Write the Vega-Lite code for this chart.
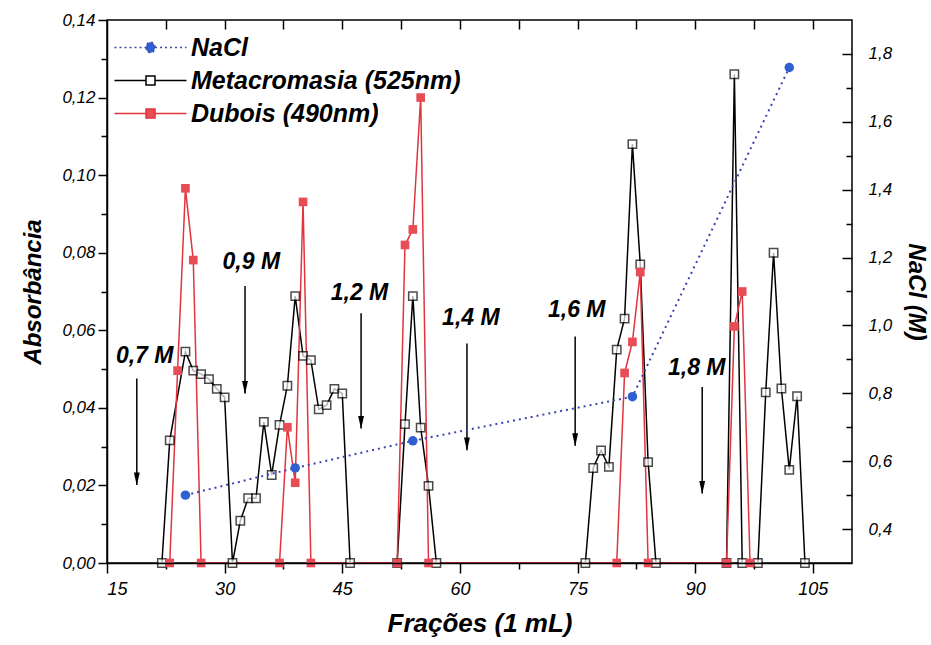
{
  "$schema": "https://vega.github.io/schema/vega-lite/v6.json",
  "width": 745,
  "height": 543,
  "autosize": {"type": "none"},
  "padding": {"left": 107, "top": 20, "right": 79, "bottom": 82},
  "background": "white",
  "config": {"view": {"stroke": "black", "strokeWidth": 1.5}},
  "datasets": {
    "absdata": [
      {"series": "Metacromasia (525nm)", "frac": 22, "absv": 0},
      {"series": "Metacromasia (525nm)", "frac": 23, "absv": 0.0316},
      {"series": "Metacromasia (525nm)", "frac": 25, "absv": 0.0545},
      {"series": "Metacromasia (525nm)", "frac": 26, "absv": 0.0496},
      {"series": "Metacromasia (525nm)", "frac": 27, "absv": 0.0487},
      {"series": "Metacromasia (525nm)", "frac": 28, "absv": 0.0474},
      {"series": "Metacromasia (525nm)", "frac": 29, "absv": 0.0449},
      {"series": "Metacromasia (525nm)", "frac": 30, "absv": 0.0427},
      {"series": "Metacromasia (525nm)", "frac": 31, "absv": 0},
      {"series": "Metacromasia (525nm)", "frac": 32, "absv": 0.0109},
      {"series": "Metacromasia (525nm)", "frac": 33, "absv": 0.0167},
      {"series": "Metacromasia (525nm)", "frac": 34, "absv": 0.0167},
      {"series": "Metacromasia (525nm)", "frac": 35, "absv": 0.0364},
      {"series": "Metacromasia (525nm)", "frac": 36, "absv": 0.0227},
      {"series": "Metacromasia (525nm)", "frac": 37, "absv": 0.0356},
      {"series": "Metacromasia (525nm)", "frac": 38, "absv": 0.0457},
      {"series": "Metacromasia (525nm)", "frac": 39, "absv": 0.0688},
      {"series": "Metacromasia (525nm)", "frac": 40, "absv": 0.0534},
      {"series": "Metacromasia (525nm)", "frac": 41, "absv": 0.0523},
      {"series": "Metacromasia (525nm)", "frac": 42, "absv": 0.0396},
      {"series": "Metacromasia (525nm)", "frac": 43, "absv": 0.0407},
      {"series": "Metacromasia (525nm)", "frac": 44, "absv": 0.0449},
      {"series": "Metacromasia (525nm)", "frac": 45, "absv": 0.0437},
      {"series": "Metacromasia (525nm)", "frac": 46, "absv": 0},
      {"series": "Metacromasia (525nm)", "frac": 52, "absv": 0},
      {"series": "Metacromasia (525nm)", "frac": 53, "absv": 0.0358},
      {"series": "Metacromasia (525nm)", "frac": 54, "absv": 0.0688},
      {"series": "Metacromasia (525nm)", "frac": 55, "absv": 0.0349},
      {"series": "Metacromasia (525nm)", "frac": 56, "absv": 0.0199},
      {"series": "Metacromasia (525nm)", "frac": 57, "absv": 0},
      {"series": "Metacromasia (525nm)", "frac": 76, "absv": 0},
      {"series": "Metacromasia (525nm)", "frac": 77, "absv": 0.0245},
      {"series": "Metacromasia (525nm)", "frac": 78, "absv": 0.029},
      {"series": "Metacromasia (525nm)", "frac": 79, "absv": 0.0248},
      {"series": "Metacromasia (525nm)", "frac": 80, "absv": 0.055},
      {"series": "Metacromasia (525nm)", "frac": 81, "absv": 0.063},
      {"series": "Metacromasia (525nm)", "frac": 82, "absv": 0.108},
      {"series": "Metacromasia (525nm)", "frac": 83, "absv": 0.077},
      {"series": "Metacromasia (525nm)", "frac": 84, "absv": 0.026},
      {"series": "Metacromasia (525nm)", "frac": 85, "absv": 0},
      {"series": "Metacromasia (525nm)", "frac": 94, "absv": 0},
      {"series": "Metacromasia (525nm)", "frac": 95, "absv": 0.126},
      {"series": "Metacromasia (525nm)", "frac": 96, "absv": 0},
      {"series": "Metacromasia (525nm)", "frac": 98, "absv": 0},
      {"series": "Metacromasia (525nm)", "frac": 99, "absv": 0.044},
      {"series": "Metacromasia (525nm)", "frac": 100, "absv": 0.080},
      {"series": "Metacromasia (525nm)", "frac": 101, "absv": 0.045},
      {"series": "Metacromasia (525nm)", "frac": 102, "absv": 0.024},
      {"series": "Metacromasia (525nm)", "frac": 103, "absv": 0.043},
      {"series": "Metacromasia (525nm)", "frac": 104, "absv": 0},
      {"series": "Dubois (490nm)", "frac": 23, "absv": 0},
      {"series": "Dubois (490nm)", "frac": 24, "absv": 0.0496},
      {"series": "Dubois (490nm)", "frac": 25, "absv": 0.0966},
      {"series": "Dubois (490nm)", "frac": 26, "absv": 0.0781},
      {"series": "Dubois (490nm)", "frac": 27, "absv": 0},
      {"series": "Dubois (490nm)", "frac": 37, "absv": 0},
      {"series": "Dubois (490nm)", "frac": 38, "absv": 0.035},
      {"series": "Dubois (490nm)", "frac": 39, "absv": 0.0207},
      {"series": "Dubois (490nm)", "frac": 40, "absv": 0.0931},
      {"series": "Dubois (490nm)", "frac": 41, "absv": 0},
      {"series": "Dubois (490nm)", "frac": 52, "absv": 0},
      {"series": "Dubois (490nm)", "frac": 53, "absv": 0.082},
      {"series": "Dubois (490nm)", "frac": 54, "absv": 0.086},
      {"series": "Dubois (490nm)", "frac": 55, "absv": 0.120},
      {"series": "Dubois (490nm)", "frac": 56, "absv": 0},
      {"series": "Dubois (490nm)", "frac": 80, "absv": 0},
      {"series": "Dubois (490nm)", "frac": 81, "absv": 0.049},
      {"series": "Dubois (490nm)", "frac": 82, "absv": 0.057},
      {"series": "Dubois (490nm)", "frac": 83, "absv": 0.075},
      {"series": "Dubois (490nm)", "frac": 84, "absv": 0},
      {"series": "Dubois (490nm)", "frac": 94, "absv": 0},
      {"series": "Dubois (490nm)", "frac": 95, "absv": 0.061},
      {"series": "Dubois (490nm)", "frac": 96, "absv": 0.070},
      {"series": "Dubois (490nm)", "frac": 97, "absv": 0}
    ],
    "nacldata": [
      {"frac": 25, "nacl": 0.50},
      {"frac": 39, "nacl": 0.58},
      {"frac": 54, "nacl": 0.66},
      {"frac": 82, "nacl": 0.79},
      {"frac": 102, "nacl": 1.76}
    ],
    "notedata": [
      {"txt": "0,7 M", "tx": 19.8, "ty": 0.0534, "ax": 18.8, "ay": 0.0476, "ay2": 0.0201},
      {"txt": "0,9 M", "tx": 33.4, "ty": 0.0776, "ax": 32.6, "ay": 0.0714, "ay2": 0.0437},
      {"txt": "1,2 M", "tx": 47.2, "ty": 0.0696, "ax": 47.4, "ay": 0.0644, "ay2": 0.0347},
      {"txt": "1,4 M", "tx": 61.4, "ty": 0.0632, "ax": 60.9, "ay": 0.0566, "ay2": 0.0291},
      {"txt": "1,6 M", "tx": 74.9, "ty": 0.0652, "ax": 74.7, "ay": 0.0584, "ay2": 0.0302},
      {"txt": "1,8 M", "tx": 90.2, "ty": 0.0503, "ax": 90.9, "ay": 0.0454, "ay2": 0.0179}
    ]
  },
  "resolve": {"scale": {"y": "independent"}, "axis": {"x": "independent", "y": "independent"}},
  "layer": [
    {
      "data": {"name": "absdata"},
      "mark": {"type": "line", "strokeWidth": 1.5},
      "encoding": {
        "x": {"field": "frac", "type": "quantitative", "scale": {"domain": [15, 110], "nice": false, "zero": false},
          "axis": {"orient": "bottom", "values": [15, 30, 45, 60, 75, 90, 105], "grid": false, "tickSize": 10, "tickColor": "black", "tickWidth": 1.5, "domain": true, "domainColor": "black", "domainWidth": 1.5,
            "labelFont": "Liberation Sans", "labelFontStyle": "italic", "labelColor": "black", "labelFontSize": 18, "labelPadding": 7, "zindex": 1,
            "title": "Frações (1 mL)", "titleFont": "Liberation Sans", "titleFontStyle": "italic", "titleFontWeight": "bold", "titleColor": "black", "titleFontSize": 26, "titlePadding": 12}},
        "y": {"field": "absv", "type": "quantitative", "scale": {"domain": [0, 0.14], "nice": false},
          "axis": {"orient": "left", "values": [0, 0.02, 0.04, 0.06, 0.08, 0.1, 0.12, 0.14], "format": ".2f", "labelExpr": "replace(datum.label, '.', ',')", "grid": false,
            "tickSize": 9, "tickColor": "black", "tickWidth": 1.5, "domain": true, "domainColor": "black", "domainWidth": 1.5,
            "labelFont": "Liberation Sans", "labelFontStyle": "italic", "labelColor": "black", "labelFontSize": 17, "labelPadding": 3,
            "title": "Absorbância", "titleFont": "Liberation Sans", "titleFontStyle": "italic", "titleFontWeight": "bold", "titleColor": "black", "titleFontSize": 24, "titlePadding": 16}},
        "color": {"field": "series", "type": "nominal",
          "scale": {"domain": ["NaCl", "Metacromasia (525nm)", "Dubois (490nm)"], "range": ["#3b45b0", "#000000", "#e0343e"]},
          "legend": {
            "orient": "top-left", "offset": 15, "padding": 0, "title": null,
            "labelFont": "Liberation Sans", "labelFontSize": 25, "labelFontWeight": "bold", "labelFontStyle": "italic", "labelColor": "black",
            "labelLimit": 400, "symbolSize": 100, "symbolStrokeWidth": 1.5, "symbolOffset": 16, "labelOffset": 28, "rowPadding": 7,
            "encode": {"symbols": {"update": {
              "shape": {"signal": "datum.value === 'NaCl' ? 'M-7.2,0H-0.9M0.9,0H7.2M-0.9,0A0.9,1.05 0 1,0 0.9,0A0.9,1.05 0 1,0 -0.9,0Z' : 'M-7.2,0H-0.9M0.9,0H7.2M-0.9,-0.9H0.9V0.9H-0.9Z'"},
              "strokeDash": {"signal": "datum.value === 'NaCl' ? [2, 3] : []"},
              "fill": {"signal": "datum.value === 'NaCl' ? '#2f5fd0' : (datum.value === 'Dubois (490nm)' ? '#e84c55' : 'white')"},
              "stroke": {"signal": "datum.value === 'NaCl' ? '#3b45b0' : (datum.value === 'Dubois (490nm)' ? '#e0343e' : 'black')"}
            }}}
          }}
      }
    },
    {
      "data": {"name": "absdata"},
      "transform": [{"filter": "datum.series === 'Metacromasia (525nm)'"}],
      "mark": {"type": "point", "shape": "square", "filled": false, "fill": "white", "stroke": "black", "strokeWidth": 1.5, "size": 70},
      "encoding": {
        "x": {"field": "frac", "type": "quantitative", "scale": {"domain": [15, 110], "nice": false, "zero": false},
          "axis": {"orient": "bottom", "values": [22.5, 37.5, 52.5, 67.5, 82.5, 97.5], "grid": false, "tickSize": 6, "tickColor": "black", "tickWidth": 1.5, "labels": false, "domain": false, "title": null}},
        "y": {"field": "absv", "type": "quantitative", "scale": {"domain": [0, 0.14], "nice": false},
          "axis": {"orient": "left", "values": [0.01, 0.03, 0.05, 0.07, 0.09, 0.11, 0.13], "grid": false, "tickSize": 6, "tickColor": "black", "tickWidth": 1.5, "labels": false, "domain": false, "title": null}}
      }
    },
    {
      "data": {"name": "absdata"},
      "transform": [{"filter": "datum.series === 'Dubois (490nm)'"}],
      "mark": {"type": "point", "shape": "square", "filled": true, "color": "#e84c55", "size": 75, "opacity": 1},
      "encoding": {
        "x": {"field": "frac", "type": "quantitative", "scale": {"domain": [15, 110], "nice": false, "zero": false},
          "axis": {"orient": "top", "values": [22.5, 30, 37.5, 45, 52.5, 60, 67.5, 75, 82.5, 90, 97.5, 105], "grid": false, "tickSize": -9, "tickColor": "black", "tickWidth": 1.5, "labels": false, "domain": false, "title": null}},
        "y": {"field": "absv", "type": "quantitative", "scale": {"domain": [0, 0.14], "nice": false}, "axis": null}
      }
    },
    {
      "data": {"name": "notedata"},
      "mark": {"type": "text", "font": "Liberation Sans", "fontSize": 23, "fontWeight": "bold", "fontStyle": "italic", "align": "center", "baseline": "middle", "color": "black"},
      "encoding": {
        "x": {"field": "tx", "type": "quantitative", "scale": {"domain": [15, 110], "nice": false, "zero": false}, "axis": null},
        "y": {"field": "ty", "type": "quantitative", "scale": {"domain": [0, 0.14], "nice": false}, "axis": null},
        "text": {"field": "txt"}
      }
    },
    {
      "data": {"name": "notedata"},
      "mark": {"type": "rule", "strokeWidth": 1.5, "color": "black"},
      "encoding": {
        "x": {"field": "ax", "type": "quantitative", "scale": {"domain": [15, 110], "nice": false, "zero": false}, "axis": null},
        "y": {"field": "ay", "type": "quantitative", "scale": {"domain": [0, 0.14], "nice": false}, "axis": null},
        "y2": {"field": "ay2"}
      }
    },
    {
      "data": {"name": "notedata"},
      "mark": {"type": "point", "shape": "M-0.45,-1L0.45,-1L0,1Z", "filled": true, "color": "black", "size": 170, "opacity": 1, "yOffset": -6},
      "encoding": {
        "x": {"field": "ax", "type": "quantitative", "scale": {"domain": [15, 110], "nice": false, "zero": false}, "axis": null},
        "y": {"field": "ay2", "type": "quantitative", "scale": {"domain": [0, 0.14], "nice": false}, "axis": null}
      }
    },
    {
      "data": {"name": "nacldata"},
      "mark": {"type": "line", "strokeWidth": 2, "strokeDash": [2, 4], "color": "#3b45b0"},
      "encoding": {
        "x": {"field": "frac", "type": "quantitative", "scale": {"domain": [15, 110], "nice": false, "zero": false}, "axis": null},
        "y": {"field": "nacl", "type": "quantitative", "scale": {"domain": [0.3, 1.9], "nice": false, "zero": false},
          "axis": {"orient": "right", "values": [0.4, 0.6, 0.8, 1.0, 1.2, 1.4, 1.6, 1.8], "format": ".1f", "labelExpr": "replace(datum.label, '.', ',')", "grid": false,
            "tickSize": -10, "tickColor": "black", "tickWidth": 1.5, "domain": false,
            "labelFont": "Liberation Sans", "labelFontStyle": "italic", "labelColor": "black", "labelFontSize": 17, "labelPadding": 26,
            "title": "NaCl (M)", "titleFont": "Liberation Sans", "titleFontStyle": "italic", "titleFontWeight": "bold", "titleColor": "black", "titleAngle": 90, "titleFontSize": 24, "titlePadding": 12}}
      }
    },
    {
      "data": {"name": "nacldata"},
      "mark": {"type": "point", "shape": "circle", "filled": true, "color": "#2f5fd0", "size": 90, "opacity": 1},
      "encoding": {
        "x": {"field": "frac", "type": "quantitative", "scale": {"domain": [15, 110], "nice": false, "zero": false}, "axis": null},
        "y": {"field": "nacl", "type": "quantitative", "scale": {"domain": [0.3, 1.9], "nice": false, "zero": false},
          "axis": {"orient": "right", "values": [0.5, 0.7, 0.9, 1.1, 1.3, 1.5, 1.7], "grid": false, "tickSize": -6, "tickColor": "black", "tickWidth": 1.5, "labels": false, "domain": false, "title": null}}
      }
    }
  ]
}
